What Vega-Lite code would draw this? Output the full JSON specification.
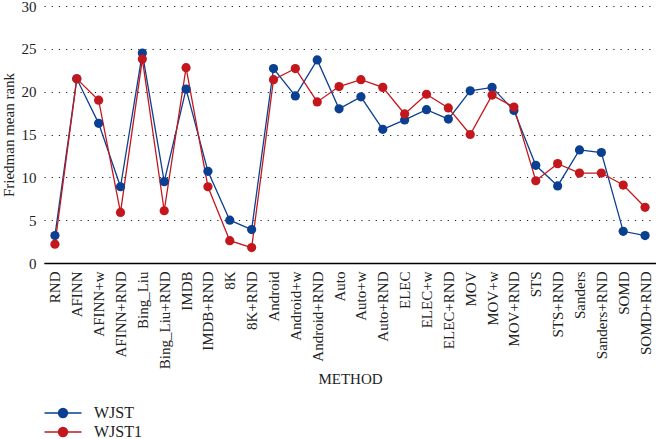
{
  "$schema": "https://vega.github.io/schema/vega-lite/v6.json",
  "autosize": {"type": "none"},
  "padding": {"left": 44, "top": 6, "right": 0, "bottom": 176},
  "width": 612,
  "height": 257,
  "background": "white",
  "config": {
    "font": "Liberation Serif",
    "view": {"stroke": null},
    "axis": {"labelFont": "Liberation Serif", "titleFont": "Liberation Serif", "labelColor": "#222", "titleColor": "#222"}
  },
  "data": {
    "values": [
      {"method": "RND", "i": 1, "series": "WJST", "rank": 3.2},
      {"method": "AFINN", "i": 2, "series": "WJST", "rank": 21.5},
      {"method": "AFINN+w", "i": 3, "series": "WJST", "rank": 16.3},
      {"method": "AFINN+RND", "i": 4, "series": "WJST", "rank": 8.9},
      {"method": "Bing_Liu", "i": 5, "series": "WJST", "rank": 24.5},
      {"method": "Bing_Liu+RND", "i": 6, "series": "WJST", "rank": 9.5},
      {"method": "IMDB", "i": 7, "series": "WJST", "rank": 20.3},
      {"method": "IMDB+RND", "i": 8, "series": "WJST", "rank": 10.7},
      {"method": "8K", "i": 9, "series": "WJST", "rank": 5.0},
      {"method": "8K+RND", "i": 10, "series": "WJST", "rank": 3.9},
      {"method": "Android", "i": 11, "series": "WJST", "rank": 22.7},
      {"method": "Android+w", "i": 12, "series": "WJST", "rank": 19.5},
      {"method": "Android+RND", "i": 13, "series": "WJST", "rank": 23.7},
      {"method": "Auto", "i": 14, "series": "WJST", "rank": 18.0},
      {"method": "Auto+w", "i": 15, "series": "WJST", "rank": 19.4},
      {"method": "Auto+RND", "i": 16, "series": "WJST", "rank": 15.6},
      {"method": "ELEC", "i": 17, "series": "WJST", "rank": 16.7},
      {"method": "ELEC+w", "i": 18, "series": "WJST", "rank": 17.9},
      {"method": "ELEC+RND", "i": 19, "series": "WJST", "rank": 16.8},
      {"method": "MOV", "i": 20, "series": "WJST", "rank": 20.1},
      {"method": "MOV+w", "i": 21, "series": "WJST", "rank": 20.5},
      {"method": "MOV+RND", "i": 22, "series": "WJST", "rank": 17.8},
      {"method": "STS", "i": 23, "series": "WJST", "rank": 11.4},
      {"method": "STS+RND", "i": 24, "series": "WJST", "rank": 9.0},
      {"method": "Sanders", "i": 25, "series": "WJST", "rank": 13.2},
      {"method": "Sanders+RND", "i": 26, "series": "WJST", "rank": 12.9},
      {"method": "SOMD", "i": 27, "series": "WJST", "rank": 3.7},
      {"method": "SOMD+RND", "i": 28, "series": "WJST", "rank": 3.2},
      {"method": "RND", "i": 1, "series": "WJST1", "rank": 2.2},
      {"method": "AFINN", "i": 2, "series": "WJST1", "rank": 21.5},
      {"method": "AFINN+w", "i": 3, "series": "WJST1", "rank": 19.0},
      {"method": "AFINN+RND", "i": 4, "series": "WJST1", "rank": 5.9},
      {"method": "Bing_Liu", "i": 5, "series": "WJST1", "rank": 23.8},
      {"method": "Bing_Liu+RND", "i": 6, "series": "WJST1", "rank": 6.1},
      {"method": "IMDB", "i": 7, "series": "WJST1", "rank": 22.8},
      {"method": "IMDB+RND", "i": 8, "series": "WJST1", "rank": 8.9},
      {"method": "8K", "i": 9, "series": "WJST1", "rank": 2.6},
      {"method": "8K+RND", "i": 10, "series": "WJST1", "rank": 1.8},
      {"method": "Android", "i": 11, "series": "WJST1", "rank": 21.4},
      {"method": "Android+w", "i": 12, "series": "WJST1", "rank": 22.7},
      {"method": "Android+RND", "i": 13, "series": "WJST1", "rank": 18.8},
      {"method": "Auto", "i": 14, "series": "WJST1", "rank": 20.6},
      {"method": "Auto+w", "i": 15, "series": "WJST1", "rank": 21.4},
      {"method": "Auto+RND", "i": 16, "series": "WJST1", "rank": 20.5},
      {"method": "ELEC", "i": 17, "series": "WJST1", "rank": 17.4},
      {"method": "ELEC+w", "i": 18, "series": "WJST1", "rank": 19.7},
      {"method": "ELEC+RND", "i": 19, "series": "WJST1", "rank": 18.1},
      {"method": "MOV", "i": 20, "series": "WJST1", "rank": 15.0},
      {"method": "MOV+w", "i": 21, "series": "WJST1", "rank": 19.6},
      {"method": "MOV+RND", "i": 22, "series": "WJST1", "rank": 18.2},
      {"method": "STS", "i": 23, "series": "WJST1", "rank": 9.6},
      {"method": "STS+RND", "i": 24, "series": "WJST1", "rank": 11.6},
      {"method": "Sanders", "i": 25, "series": "WJST1", "rank": 10.5},
      {"method": "Sanders+RND", "i": 26, "series": "WJST1", "rank": 10.5},
      {"method": "SOMD", "i": 27, "series": "WJST1", "rank": 9.1},
      {"method": "SOMD+RND", "i": 28, "series": "WJST1", "rank": 6.5}
    ]
  },
  "encoding": {
    "x": {
      "field": "method",
      "type": "ordinal",
      "sort": {"field": "i"},
      "scale": {"type": "point", "padding": 0.5},
      "axis": {
        "title": "METHOD",
        "titleFontSize": 15,
        "titleFontWeight": "normal",
        "titlePadding": 3,
        "labelAngle": -90,
        "labelFontSize": 15,
        "labelPadding": 8,
        "ticks": false,
        "grid": false,
        "domain": true,
        "domainColor": "#000",
        "domainWidth": 1.5
      }
    },
    "y": {
      "field": "rank",
      "type": "quantitative",
      "scale": {"domain": [0, 30], "nice": false},
      "axis": {
        "title": "Friedman mean rank",
        "titleFontSize": 15,
        "titleFontWeight": "normal",
        "titlePadding": 5,
        "labelFontSize": 15,
        "labelPadding": 8,
        "ticks": false,
        "domain": false,
        "values": [0, 5, 10, 15, 20, 25, 30],
        "grid": true,
        "gridColor": "#222",
        "gridDash": [1.2, 6],
        "gridWidth": 1.2
      }
    },
    "color": {
      "field": "series",
      "type": "nominal",
      "scale": {"domain": ["WJST", "WJST1"], "range": ["#0b3f91", "#c4171d"]},
      "legend": {
        "title": null,
        "orient": "none",
        "legendX": 9,
        "legendY": 397,
        "direction": "vertical",
        "symbolType": "M-2,0H2M0.48,0A0.48,0.48 0 1,1 -0.48,0A0.48,0.48 0 1,1 0.48,0Z",
        "symbolSize": 342,
        "symbolStrokeWidth": 1.5,
        "labelFontSize": 16,
        "labelFont": "Liberation Serif",
        "labelColor": "#222",
        "labelOffset": 21,
        "rowPadding": 1,
        "encode": {
          "symbols": {"update": {"fill": {"scale": "color", "field": "value"}, "stroke": {"scale": "color", "field": "value"}}}
        }
      }
    }
  },
  "layer": [
    {"mark": {"type": "line", "strokeWidth": 1.3}},
    {"mark": {"type": "point", "filled": true, "size": 85, "opacity": 1}}
  ]
}
